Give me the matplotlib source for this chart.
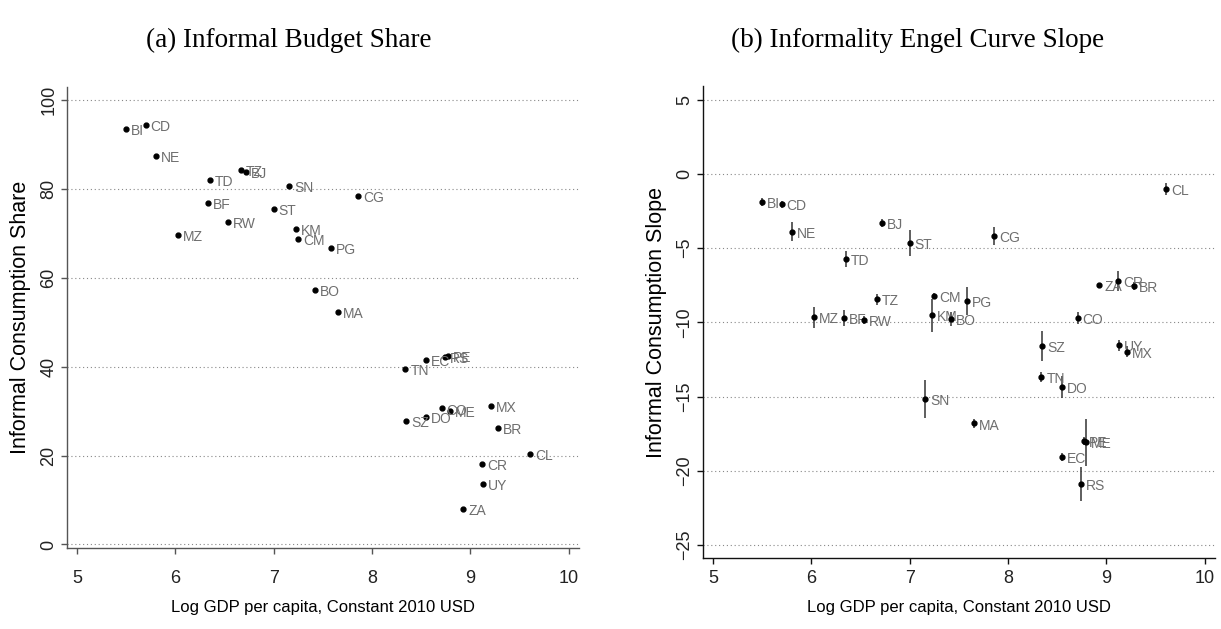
import matplotlib
matplotlib.use("Agg")
import matplotlib.pyplot as plt

countries = ["BI", "CD", "NE", "TZ", "BJ", "TD", "SN", "CG", "BF", "ST", "RW", "KM", "MZ", "CM", "PG", "BO",
             "MA", "TN", "EC", "RS", "PE", "CO", "ME", "DO", "SZ", "MX", "BR", "CL", "CR", "UY", "ZA"]
log_gdp = [5.50, 5.70, 5.80, 6.67, 6.72, 6.35, 7.16, 7.86, 6.33, 7.00, 6.54, 7.23, 6.03, 7.25, 7.58, 7.42,
           7.65, 8.34, 8.55, 8.74, 8.77, 8.71, 8.79, 8.55, 8.35, 9.21, 9.28, 9.61, 9.12, 9.13, 8.93]
budget_share = [93.4, 94.4, 87.4, 84.3, 83.8, 82.0, 80.7, 78.4, 76.9, 75.4, 72.5, 71.1, 69.6, 68.8, 66.7, 57.2,
                52.3, 39.5, 41.5, 42.1, 42.4, 30.6, 30.1, 28.7, 27.7, 31.1, 26.2, 20.3, 18.2, 13.7, 8.0]
engel_slope = [-1.89, -2.04, -3.89, -8.44, -3.30, -5.73, -15.16, -4.20, -9.70, -4.65, -9.86, -9.52, -9.66, -8.20,
               -8.58, -9.77, -16.81, -13.66, -19.07, -20.89, -17.99, -9.72, -18.08, -14.35, -11.59, -11.97, -7.53,
               -1.01, -7.21, -11.54, -7.50]
slope_ci = [0.25, 0.22, 0.63, 0.38, 0.25, 0.56, 1.30, 0.60, 0.56, 0.90, 0.26, 1.12, 0.73, 0.20,
            0.94, 0.50, 0.29, 0.34, 0.27, 1.12, 0.27, 0.40, 1.60, 0.73, 1.00, 0.36, 0.27,
            0.40, 0.67, 0.36, 0.10]

x_ticks = [5, 6, 7, 8, 9, 10]
share_ticks = [0, 20, 40, 60, 80, 100]
slope_ticks = [5, 0, -5, -10, -15, -20, -25]

plt.rcParams['font.family'] = ['Liberation Sans', 'DejaVu Sans']

W, H = 1221, 629
fig = plt.figure(figsize=(W / 100, H / 100), dpi=100)

def px_axes(x0, x1, ytop, ybot):
    return [x0 / W, 1 - ybot / H, (x1 - x0) / W, (ybot - ytop) / H]

ax1 = fig.add_axes(px_axes(67.2, 578.5, 87.2, 548))
ax2 = fig.add_axes(px_axes(703.2, 1214.5, 86.4, 558.4))

label_color = '#6e6e6e'
label_family = ['Liberation Sans Narrow', 'Liberation Sans', 'DejaVu Sans']

def style(ax, yticks, ylim, ylabel, spine_color, xpad, xlabelpad):
    ax.set_xlim(4.9, 10.1)
    ax.set_ylim(*ylim)
    ax.set_xticks(x_ticks)
    ax.set_yticks(yticks)
    ax.set_yticklabels([str(t).replace('-', '\u2212') for t in yticks], rotation=90, va='center')
    for s in ['top', 'right']:
        ax.spines[s].set_visible(False)
    for s in ['left', 'bottom']:
        ax.spines[s].set_color(spine_color)
        ax.spines[s].set_linewidth(1.0)
    ax.tick_params(direction='out', length=4, width=1, labelsize=13, colors=spine_color,
                   labelcolor='#222222')
    ax.tick_params(axis='y', pad=3)
    ax.tick_params(axis='x', pad=xpad)
    ax.grid(axis='y', linestyle=(0, (1, 2.5)), color='#888888', linewidth=0.8)
    ax.set_axisbelow(True)
    ax.set_xlabel('Log GDP per capita, Constant 2010 USD', fontsize=12, labelpad=xlabelpad)
    ax.set_ylabel(ylabel, fontsize=15.5, labelpad=7)

style(ax1, share_ticks, (-0.8, 102.9), 'Informal Consumption Share', '#555555', 12, 9)
style(ax2, slope_ticks, (-25.9, 5.9), 'Informal Consumption Slope', '#111111', 4, 10)

ax1.plot(log_gdp, budget_share, 'o', color='black', markersize=3.5, zorder=3)
for c, x, y in zip(countries, log_gdp, budget_share):
    ax1.annotate(c, (x, y), xytext=(3.5, -1.5), textcoords='offset points', fontsize=10,
                 family=label_family, color=label_color, va='center', ha='left')

ax2.errorbar(log_gdp, engel_slope, yerr=slope_ci, fmt='o', color='black', ecolor='#333333',
             elinewidth=1.1, markersize=3.5, capsize=0, zorder=3)
for c, x, y in zip(countries, log_gdp, engel_slope):
    ax2.annotate(c, (x, y), xytext=(3.5, -1.5), textcoords='offset points', fontsize=10,
                 family=label_family, color=label_color, va='center', ha='left')

fig.text(289 / W, 1 - 40 / H, '(a) Informal Budget Share', fontsize=19.5, family='Liberation Serif',
         ha='center', va='center')
fig.text(918 / W, 1 - 40 / H, '(b) Informality Engel Curve Slope', fontsize=19.5, family='Liberation Serif',
         ha='center', va='center')

fig.savefig('out.png', dpi=100, facecolor='white')
